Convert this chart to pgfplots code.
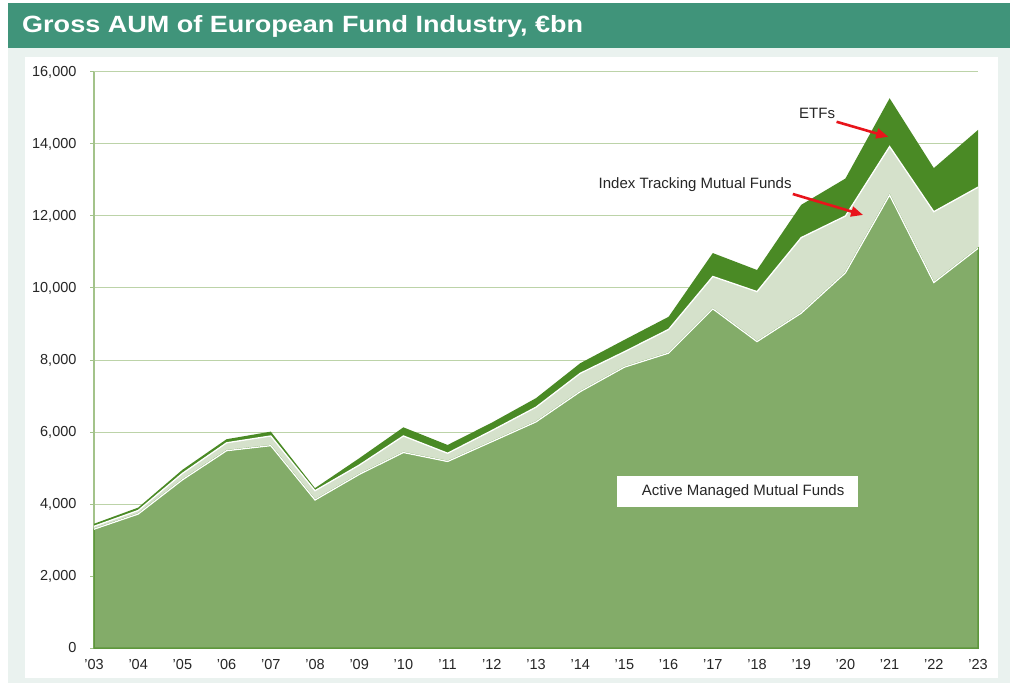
\documentclass[border=0pt]{standalone}
\usepackage{pgfplots}
\usepackage{pgfplotstable}
\pgfplotsset{compat=1.18}
\usepackage{fontspec}
\setmainfont{Liberation Sans}
\usetikzlibrary{arrows.meta}

\definecolor{titlebg}{HTML}{40947A}
\definecolor{panelbg}{HTML}{EAF2EF}
\definecolor{etfgreen}{HTML}{4A8A25}
\definecolor{indexgreen}{HTML}{D5E1CB}
\definecolor{activegreen}{HTML}{83AC69}
\definecolor{activeedge}{HTML}{5E973C}
\definecolor{gridgreen}{HTML}{BCD3A8}
\definecolor{axisgreen}{HTML}{A3C38A}
\definecolor{ticktext}{HTML}{262626}
\definecolor{arrowred}{HTML}{E8141B}

\pgfplotstableread{
x active index total
0 3300 3380 3450
1 3720 3820 3900
2 4670 4850 4950
3 5480 5700 5800
4 5620 5890 6010
5 4110 4370 4440
6 4820 5080 5270
7 5430 5890 6130
8 5180 5410 5640
9 5730 6040 6260
10 6280 6690 6940
11 7120 7630 7910
12 7800 8230 8560
13 8190 8850 9200
14 9420 10320 10970
15 8510 9900 10500
16 9300 11400 12310
17 10420 12000 13040
18 12580 13930 15270
19 10150 12120 13330
20 11100 12800 14390
}\datatable

\begin{document}
\begin{tikzpicture}
\fill[white] (0pt,0pt) rectangle (1016pt,683pt);
\fill[panelbg] (8pt,0pt) rectangle (1010pt,635pt);
\fill[titlebg] (8pt,635pt) rectangle (1010pt,680pt);
\fill[white] (25pt,5pt) rectangle (998pt,626pt);
\node[anchor=west,text=white,inner sep=0pt] at (22pt,657pt)
  {\scalebox{1.15}[1]{\fontsize{23.5}{27}\selectfont\bfseries Gross AUM of European Fund Industry, €bn}};

\begin{axis}[
  at={(94pt,35pt)}, anchor=south west,
  scale only axis, width=884pt, height=576pt,
  xmin=0, xmax=20, ymin=0, ymax=16000,
  axis x line*=bottom, axis y line*=left,
  x axis line style={draw=none},
  y axis line style={axisgreen, line width=1.2pt},
  ymajorgrids, grid style={gridgreen, line width=1pt},
  ytick={0,2000,...,16000},
  xtick={0,...,20},
  xticklabels={’03,’04,’05,’06,’07,’08,’09,’10,’11,’12,’13,’14,’15,’16,’17,’18,’19,’20,’21,’22,’23},
  scaled y ticks=false,
  /pgf/number format/.cd, 1000 sep={,}, assume math mode=true,
  /pgfplots/.cd,
  tick align=outside, major tick length=4pt,
  xtick style={draw=none},
  ytick style={axisgreen, line width=1pt},
  yticklabel style={font=\fontsize{14.5}{17}\selectfont, text=ticktext, xshift=-10pt},
  xticklabel style={font=\fontsize{14.5}{17}\selectfont, text=ticktext, yshift=-4pt},
  clip=false,
]
\addplot[draw=none, fill=etfgreen] table[x=x,y=total] {\datatable} \closedcycle;
\addplot[draw=none, fill=indexgreen] table[x=x,y=index] {\datatable} \closedcycle;
\addplot[draw=activeedge, line width=1.5pt, fill=activegreen] table[x=x,y=active] {\datatable} \closedcycle;
\addplot[white, line width=1.3pt] table[x=x,y=index] {\datatable};
\addplot[white, line width=1.3pt] table[x=x,y=active] {\datatable};

\node[font=\fontsize{15}{18}\selectfont, text=ticktext] at (axis cs:16.36,14862) {ETFs};
\node[font=\fontsize{15}{18}\selectfont, text=ticktext] at (axis cs:13.60,12860) {Index Tracking Mutual Funds};
\draw[arrowred, line width=2.6pt, -{Triangle[length=12pt,width=10pt]}] (axis cs:16.80,14617) -- (axis cs:17.97,14200);
\draw[arrowred, line width=2.6pt, -{Triangle[length=12pt,width=10pt]}] (axis cs:15.81,12611) -- (axis cs:17.40,12028);
\node[fill=white, minimum width=241pt, minimum height=31pt, inner sep=0pt,
      font=\fontsize{15}{18}\selectfont, text=ticktext] at (axis cs:14.56,4348)
  {\hspace{11pt}Active Managed Mutual Funds};
\end{axis}
\end{tikzpicture}
\end{document}
